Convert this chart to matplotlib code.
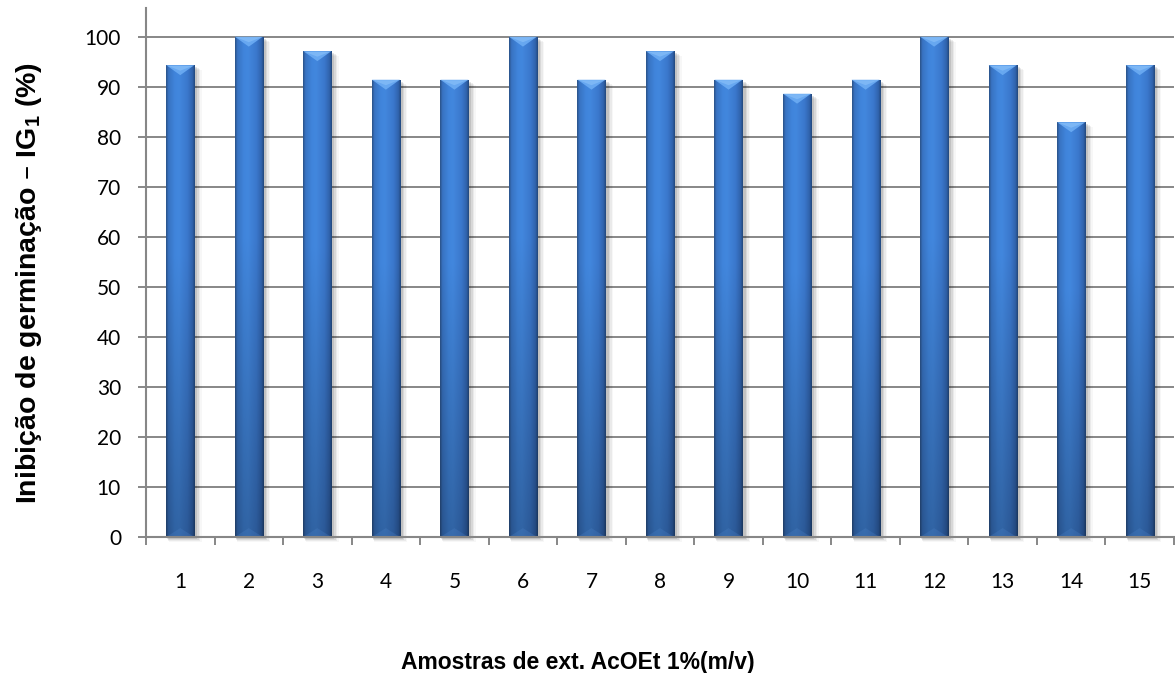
import numpy as np
import matplotlib
matplotlib.use('Agg')
import matplotlib.pyplot as plt
from matplotlib.patches import Polygon, Rectangle

samples = ['1', '2', '3', '4', '5', '6', '7', '8', '9', '10',
           '11', '12', '13', '14', '15']
inhibition = [94.3, 100.0, 97.1, 91.4, 91.4, 100.0, 91.4, 97.1, 91.4, 88.6,
              91.4, 100.0, 94.3, 82.9, 94.3]
yticks = [0, 10, 20, 30, 40, 50, 60, 70, 80, 90, 100]

BAR_W = 0.41
GRAY = '#878787'

# horizontal shading across a bar (cylinder look)
H_STOPS = np.array([0.0, 0.08, 0.30, 0.45, 0.75, 0.92, 1.0])
H_COLS = np.array([
    [0.17, 0.33, 0.55],
    [0.22, 0.45, 0.76],
    [0.25, 0.52, 0.86],
    [0.26, 0.53, 0.87],
    [0.23, 0.47, 0.80],
    [0.19, 0.39, 0.68],
    [0.14, 0.29, 0.50],
])


def bar_gradient(nx=48, ny=200):
    u = np.linspace(0, 1, nx)
    row = np.stack([np.interp(u, H_STOPS, H_COLS[:, k]) for k in range(3)], axis=-1)
    v = np.linspace(0, 1, ny)[:, None, None]
    shade = 0.74 + 0.26 * np.clip(v / 0.6, 0, 1)
    img = row[None, :, :] * shade
    return np.clip(img, 0, 1)


fig = plt.figure(figsize=(11.75, 6.73), dpi=100)
ax = fig.add_axes([146 / 1175, 1 - 537 / 673, 1028 / 1175, (537 - 8) / 673])

x = np.arange(1, len(samples) + 1)
bars = ax.bar(x, inhibition, width=BAR_W, color='#3b7bd0', zorder=3, linewidth=0)

px_x = 1028 / 15.0      # pixels per category
px_y = 5.05             # pixels per percent
grad = bar_gradient()

for rect, val in zip(bars, inhibition):
    x0 = rect.get_x()
    x1 = x0 + rect.get_width()
    xc = (x0 + x1) / 2

    # soft drop shadow
    for k, a in enumerate([0.10, 0.07, 0.05, 0.03]):
        dx = (2 + k) / px_x
        dy = (2 + k) / px_y
        ax.add_patch(Rectangle((x0 + dx * 0.5, -dy), rect.get_width() + dx, val,
                               facecolor='black', alpha=a, linewidth=0,
                               zorder=2, clip_on=False))

    im = ax.imshow(grad, extent=(x0, x1, 0, val), origin='lower',
                   aspect='auto', interpolation='bilinear', zorder=3)
    im.set_clip_path(rect)

    # bevel at the top
    bev = 10 / px_y
    ax.add_patch(Polygon([(x0, val), (x1, val), (x1 - 0.35 * BAR_W * 0.3, val - 0.2 * bev),
                          (xc, val - bev), (x0 + 0.35 * BAR_W * 0.3, val - 0.2 * bev)],
                         closed=True, facecolor='#6aaaf2', edgecolor='none',
                         alpha=0.95, zorder=4))
    ax.add_patch(Polygon([(x0 + 0.05 * BAR_W, val - 0.1), (x1 - 0.05 * BAR_W, val - 0.1),
                          (xc, val - 0.55 * bev)],
                         closed=True, facecolor='#8cc2fa', edgecolor='none',
                         alpha=0.6, zorder=4))
    # faint bevel at the base
    ax.add_patch(Polygon([(x0, 0), (x1, 0), (xc, bev * 0.9)], closed=True,
                         facecolor='#4a7fc4', edgecolor='none', alpha=0.3, zorder=4))

ax.set_xlim(0.5, len(samples) + 0.5)
ax.set_ylim(0, 100 + 29 / px_y)

ax.set_yticks(yticks)
ax.set_xticks(x)
ax.set_xticklabels(samples)
ax.set_xticks(np.arange(0.5, len(samples) + 1, 1.0), minor=True)

ax.yaxis.grid(True, color=GRAY, linewidth=1.4, zorder=1)
ax.set_axisbelow(True)

for side in ['top', 'right']:
    ax.spines[side].set_visible(False)
for side in ['left', 'bottom']:
    ax.spines[side].set_color(GRAY)
    ax.spines[side].set_linewidth(1.5)
    ax.spines[side].set_zorder(5)

ax.tick_params(axis='y', which='major', length=6, width=1.4, color=GRAY, pad=12,
               labelsize=15, labelcolor='black')
ax.tick_params(axis='x', which='major', length=0, pad=25, labelsize=15,
               labelcolor='black')
ax.tick_params(axis='x', which='minor', length=6, width=1.4, color=GRAY)
for lab in ax.get_xticklabels() + ax.get_yticklabels():
    lab.set_family(['Lato', 'DejaVu Sans'])

fig.text(0.492, 1 - 662 / 673, 'Amostras de ext. AcOEt 1%(m/v)', ha='center',
         va='center', fontsize=16.5, fontweight='bold', family='Liberation Sans')
fig.text(0.025, 1 - 283 / 673, 'Inibição de germinação – IG$_\\mathregular{1}$ (%)',
         ha='center', va='center', rotation=90, fontsize=20.5, fontweight='bold',
         family='Liberation Sans')

fig.savefig('out.png', dpi=100)
